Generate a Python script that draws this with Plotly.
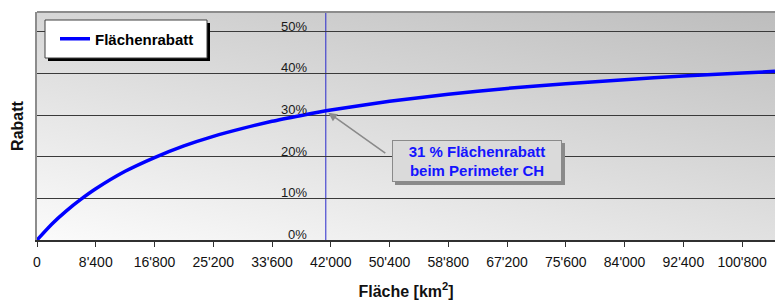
import base64
import plotly.graph_objects as go

# ---- data ----
area_km2 = [0, 2100, 4200, 6300, 8400, 12600, 16800, 21000, 25200, 29400, 33600,
            37800, 42000, 50400, 58800, 67200, 75600, 84000, 92400, 100800, 105500]
rabatt_pct = [0, 3.8, 7.0, 9.8, 12.3, 16.5, 19.8, 22.6, 24.9, 26.8, 28.5,
              29.9, 31.2, 33.3, 35.0, 36.4, 37.5, 38.5, 39.4, 40.1, 40.5]
x_tickvals = [0, 8400, 16800, 25200, 33600, 42000, 50400, 58800, 67200, 75600, 84000, 92400, 100800]
x_ticktext = ["0", "8'400", "16'800", "25'200", "33'600", "42'000", "50'400", "58'800",
              "67'200", "75'600", "84'000", "92'400", "100'800"]
y_tickvals = [0, 10, 20, 30, 40, 50]
y_ticktext = ["0%", "10%", "20%", "30%", "40%", "50%"]
ch_area = 41285
ch_rabatt = 31
series_name = "Flächenrabatt"
note_text = "31 % Flächenrabatt<br>beim Perimeter CH"

FONT = "Liberation Sans, Arial, sans-serif"
W, H = 775, 305
ML, MR, MT, MB = 37, 0, 12, 65
PW, PH = W - ML - MR, H - MT - MB


def px_x(p):
    return (p - ML) / PW


def px_y(p):
    return (H - MB - p) / PH


# gradient background for the plot area
svg = ('<svg xmlns="http://www.w3.org/2000/svg" width="100" height="100" viewBox="0 0 100 100" '
       'preserveAspectRatio="none"><defs><linearGradient id="g" x1="0" y1="1" x2="0.81" y2="-0.135">'
       '<stop offset="0" stop-color="#fbfbfb"/><stop offset="1" stop-color="#bdbdbd"/>'
       '</linearGradient></defs><rect x="0" y="0" width="100" height="100" fill="url(#g)"/></svg>')
svg_uri = "data:image/svg+xml;base64," + base64.b64encode(svg.encode()).decode()

fig = go.Figure()
fig.add_trace(go.Scatter(
    x=area_km2, y=rabatt_pct, mode="lines", name=series_name,
    line=dict(color="#0000ff", width=3.5, shape="spline", smoothing=0.6),
    hoverinfo="skip",
))

shapes = [
    # vertical line at CH area
    dict(type="line", xref="x", yref="paper", x0=ch_area, x1=ch_area, y0=0, y1=1,
         line=dict(color="#2a2acc", width=1), layer="between"),
    # top border
    dict(type="line", xref="paper", yref="paper", x0=0, x1=1, y0=1, y1=1,
         line=dict(color="#8c8c8c", width=2), layer="above"),
    # legend shadow + box
    dict(type="rect", xref="paper", yref="paper", x0=px_x(48), x1=px_x(210), y0=px_y(61), y1=px_y(23),
         fillcolor="#000000", line=dict(width=0), layer="above"),
    dict(type="rect", xref="paper", yref="paper", x0=px_x(45), x1=px_x(207), y0=px_y(58), y1=px_y(20),
         fillcolor="#ffffff", line=dict(color="#404040", width=1), layer="above"),
    # note shadow
    dict(type="rect", xref="paper", yref="paper", x0=px_x(395), x1=px_x(565), y0=px_y(185), y1=px_y(143),
         fillcolor="#8a8a8a", line=dict(width=0), layer="above"),
]

annotations = []
for v, t in zip(y_tickvals, y_ticktext):
    annotations.append(dict(
        x=ch_area, y=v, xref="x", yref="y", text=t, showarrow=False,
        xanchor="right", yanchor="bottom", xshift=-17, yshift=-4,
        font=dict(family=FONT, size=13, color="#1a1a1a"),
    ))
# arrow
annotations.append(dict(
    x=ch_area, y=ch_rabatt, xref="x", yref="y", text=" ", showarrow=True,
    ax=62, ay=44, axref="pixel", ayref="pixel", arrowhead=2, arrowsize=1.1,
    arrowwidth=1.6, arrowcolor="#8a8a8a", standoff=3,
    font=dict(family=FONT, size=6, color="rgba(0,0,0,0)"),
))
# note box
annotations.append(dict(
    x=px_x(477), y=px_y(161), xref="paper", yref="paper", text=note_text, showarrow=False,
    xanchor="center", yanchor="middle", width=168, height=40, borderpad=0,
    bgcolor="#dadada", bordercolor="#8a8a8a", borderwidth=1,
    font=dict(family=FONT, size=15, color="#1414ff", weight="bold"),
))

fig.update_layout(
    width=W, height=H,
    margin=dict(l=ML, r=MR, t=MT, b=MB, pad=0),
    paper_bgcolor="#ffffff", plot_bgcolor="rgba(0,0,0,0)",
    font=dict(family=FONT, color="#000000"),
    showlegend=True,
    legend=dict(x=px_x(55), y=px_y(39), xanchor="left", yanchor="middle",
                bgcolor="rgba(0,0,0,0)", borderwidth=0,
                font=dict(family=FONT, size=15, color="#000000", weight="bold")),
    xaxis=dict(
        range=[0, 105500], tickvals=x_tickvals, ticktext=x_ticktext, automargin=False,
        showgrid=False, zeroline=False, showline=True, linecolor="#303030", linewidth=1.5,
        ticks="outside", ticklen=5, tickcolor="#303030", tickwidth=1, ticklabelstandoff=3,
        tickfont=dict(family=FONT, size=14, color="#111111"),
        title=dict(text="Fläche [km<sup>2</sup>]", standoff=17,
                   font=dict(family=FONT, size=16, color="#111111", weight="bold")),
    ),
    yaxis=dict(
        range=[0, 54.75], tickvals=y_tickvals, showticklabels=False, automargin=False,
        showgrid=True, gridcolor="#3a3a3a", gridwidth=1, zeroline=False,
        showline=True, linecolor="#8c8c8c", linewidth=1.5, ticks="",
        title=dict(text="Rabatt", standoff=8,
                   font=dict(family=FONT, size=16, color="#111111", weight="bold")),
    ),
    shapes=shapes,
    annotations=annotations,
    images=[dict(source=svg_uri, xref="paper", yref="paper", x=0, y=1, sizex=1, sizey=1,
                 xanchor="left", yanchor="top", sizing="stretch", layer="below")],
)

fig.write_html("out.html", config={"displayModeBar": False},
               post_script="document.body.style.margin='0';document.body.style.padding='0';")
